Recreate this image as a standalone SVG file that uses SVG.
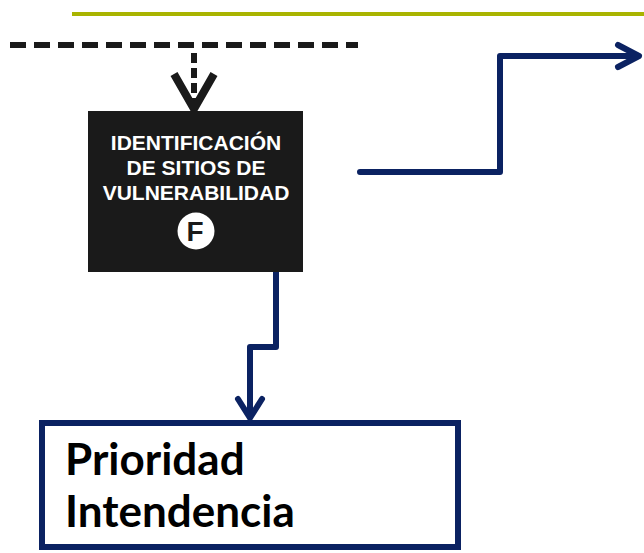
<svg xmlns="http://www.w3.org/2000/svg" width="644" height="553" viewBox="0 0 644 553">
<style>
.blue{fill:none;stroke:#0b2262;stroke-width:6;stroke-linecap:round;stroke-linejoin:round}
.dash{fill:none;stroke:#1a1a1a;stroke-width:6}
.wt{font-family:"Liberation Sans",Arial,sans-serif;font-weight:bold;font-size:21px;fill:#ffffff;text-anchor:middle}
.bt{font-family:Lato,"Open Sans",sans-serif;font-weight:bold;font-size:44px;fill:#000000}
</style>
<rect width="644" height="553" fill="#ffffff"/>
<line x1="72" y1="14" x2="644" y2="14" stroke="#a9b400" stroke-width="4"/>
<g id="connectors">
<line class="dash" x1="10" y1="45" x2="358" y2="45" stroke-dasharray="16 8"/>
<line class="dash" x1="194" y1="53" x2="194" y2="106" stroke-dasharray="10 5"/>
<polyline points="174,74 194,109 214,74" fill="none" stroke="#1a1a1a" stroke-width="8" stroke-linejoin="miter"/>
<polyline class="blue" points="276,272 276,347 250,347 250,417"/>
<polyline class="blue" points="238,399 250,418 262,399"/>
<polyline class="blue" points="360,172 500,172 500,56 638,56"/>
<polyline class="blue" points="618,45 639,56 618,67"/>
</g>
<g id="node-identificacion">
<rect x="88" y="111" width="215" height="161" fill="#1a1a1a"/>
<text class="wt" x="196" y="150">IDENTIFICACIÓN</text>
<text class="wt" x="196" y="175">DE SITIOS DE</text>
<text class="wt" x="196" y="200">VULNERABILIDAD</text>
<circle cx="196" cy="231" r="18.5" fill="#ffffff"/>
<text x="195" y="241" font-family="Liberation Sans,Arial,sans-serif" font-weight="bold" font-size="28" fill="#1a1a1a" text-anchor="middle">F</text>
</g>
<g id="node-prioridad">
<rect x="42" y="423" width="416" height="124" fill="#ffffff" stroke="#0b2262" stroke-width="6"/>
<text class="bt" x="65" y="475">Prioridad</text>
<text class="bt" x="65" y="527">Intendencia</text>
</g>
</svg>
